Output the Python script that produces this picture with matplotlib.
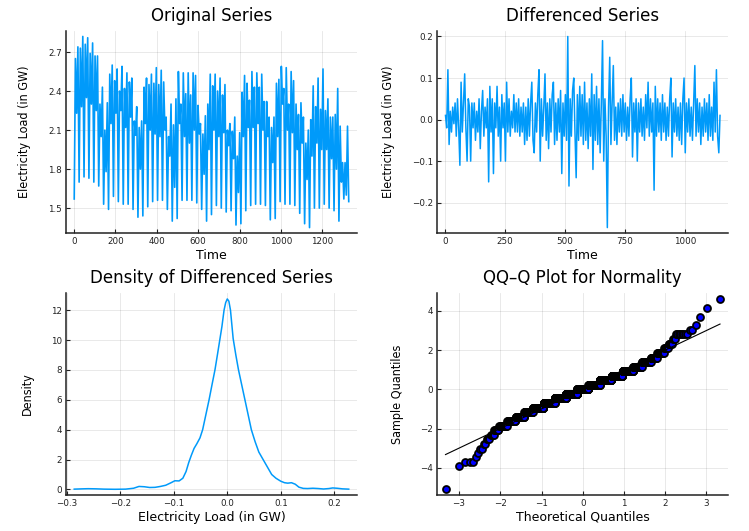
import numpy as np
import matplotlib
matplotlib.use("Agg")
import matplotlib.pyplot as plt
from statistics import NormalDist

LINE_BLUE = "#009AFA"

# original load series: (low, high, dip, high) per weekly cycle
orig_values = [
    1.57, 2.65, 2.23, 2.74,  1.70, 2.73, 2.28, 2.82,  1.74, 2.76, 2.35, 2.81,
    1.73, 2.69, 2.30, 2.77,  1.70, 2.67, 2.25, 2.67,  1.67, 2.30, 2.05, 2.43,
    1.53, 2.10, 1.78, 2.31,  1.49, 2.53, 2.15, 2.60,  1.59, 2.48, 2.23, 2.57,
    1.55, 2.40, 2.25, 2.59,  1.53, 2.42, 2.12, 2.54,  1.53, 2.47, 2.20, 2.50,
    1.49, 2.17, 2.06, 2.28,  1.43, 2.12, 1.80, 2.17,  1.44, 2.43, 2.15, 2.50,
    1.51, 2.45, 2.10, 2.53,  1.55, 2.46, 2.07, 2.58,  1.56, 2.45, 2.05, 2.56,
    1.56, 2.47, 2.10, 2.20,  1.49, 2.05, 1.90, 2.30,  1.40, 2.14, 1.66, 2.34,
    1.42, 2.55, 2.15, 2.30,  1.56, 2.54, 2.05, 2.38,  1.56, 2.54, 2.00, 2.37,
    1.56, 2.54, 2.10, 2.52,  1.54, 2.29, 2.07, 2.15,  1.49, 2.07, 1.76, 2.21,
    1.40, 2.30, 1.95, 2.53,  1.45, 2.44, 2.10, 2.53,  1.52, 2.40, 2.05, 2.50,
    1.50, 2.37, 2.08, 2.45,  1.47, 2.10, 1.98, 2.15,  1.48, 2.09, 1.88, 2.20,
    1.37, 1.90, 1.62, 2.08,  1.38, 2.39, 2.05, 2.52,  1.48, 2.46, 2.12, 2.33,
    1.52, 2.55, 2.12, 2.43,  1.53, 2.54, 2.15, 2.43,  1.53, 2.53, 2.10, 2.32,
    1.52, 2.32, 2.05, 2.20,  1.41, 2.12, 1.85, 2.20,  1.42, 2.46, 2.05, 2.49,
    1.55, 2.59, 2.30, 2.42,  1.53, 2.58, 2.10, 2.30,  1.53, 2.55, 2.08, 2.48,
    1.52, 2.30, 1.95, 2.22,  1.46, 2.31, 2.00, 2.20,  1.38, 2.00, 1.72, 2.10,
    1.35, 2.18, 1.90, 2.44,  1.50, 2.28, 2.00, 2.50,  1.50, 2.26, 1.95, 2.57,
    1.53, 2.25, 1.95, 2.34,  1.50, 2.20, 1.88, 2.20,  1.48, 2.22, 1.80, 2.42,
    1.40, 2.13, 1.70, 1.85,  1.57, 1.85, 1.60, 2.13,  1.55,
]
orig_len = 1327

# differenced series (GW)
diff_values = [
    0.01, -0.02, 0.12, -0.06, 0.02, -0.03, 0.03, -0.01, 0.04, -0.04,
    0.05, -0.02, -0.11, 0.09, -0.03, 0.04, 0.11, -0.02, -0.10, 0.05,
    0.03, -0.10, 0.04, -0.02, 0.04, -0.05, 0.02, -0.03, 0.05, -0.07,
    0.02, 0.07, -0.04, 0.03, -0.02, 0.05, -0.15, 0.08, -0.03, 0.05,
    -0.13, 0.04, -0.02, 0.08, -0.04, 0.03, -0.10, 0.06, -0.02, 0.04,
    -0.10, 0.09, -0.03, 0.05, -0.04, 0.02, -0.02, 0.06, -0.03, 0.04,
    -0.03, 0.05, -0.04, 0.03, -0.03, 0.04, -0.06, 0.03, -0.05, 0.05,
    -0.04, 0.04, 0.09, -0.05, -0.08, 0.04, -0.03, 0.06, 0.12, -0.10,
    0.05, -0.04, 0.03, 0.11, -0.05, 0.04, -0.07, 0.05, -0.03, 0.06,
    0.09, -0.06, 0.04, -0.05, 0.05, -0.03, 0.07, -0.13, 0.04, -0.04,
    0.06, -0.05, 0.20, -0.16, 0.05, -0.04, 0.07, 0.10, -0.03, -0.14,
    0.06, -0.05, 0.08, -0.04, 0.06, -0.06, 0.09, -0.05, 0.04, -0.07,
    0.05, -0.04, 0.11, -0.12, 0.06, -0.05, 0.08, -0.06, 0.05, -0.08,
    0.04, 0.19, -0.10, 0.05, -0.04, -0.26, 0.03, 0.15, -0.06, 0.04,
    0.13, -0.05, 0.03, -0.06, 0.04, -0.03, 0.05, -0.04, 0.06, -0.03,
    0.04, -0.05, 0.03, -0.04, 0.05, 0.10, -0.09, 0.04, -0.03, 0.05,
    -0.10, 0.04, -0.03, 0.05, -0.04, 0.03, -0.05, 0.06, -0.02, 0.09,
    -0.04, 0.05, -0.03, 0.04, -0.17, 0.08, -0.04, 0.05, -0.03, 0.04,
    -0.05, 0.06, -0.03, 0.04, -0.05, 0.03, -0.04, 0.05, 0.10, -0.09,
    0.04, -0.03, 0.05, -0.04, 0.03, -0.05, 0.04, -0.06, 0.05, 0.10,
    -0.08, 0.04, -0.03, 0.05, -0.04, 0.03, -0.05, 0.04, 0.13, -0.04,
    0.05, -0.03, 0.04, -0.06, 0.03, -0.04, 0.05, -0.03, 0.04, -0.05,
    0.06, -0.04, 0.03, -0.05, 0.09, -0.03, 0.12, -0.04, -0.08, 0.01,
]
diff_len = 1147

# kernel density of the differenced series
dens_x = [-0.286, -0.27, -0.26, -0.245, -0.23, -0.21, -0.19, -0.175, -0.165, -0.155,
          -0.145, -0.135, -0.125, -0.115, -0.105, -0.098, -0.09, -0.083, -0.077, -0.072,
          -0.067, -0.062, -0.057, -0.051, -0.046, -0.04, -0.034, -0.028, -0.023, -0.018,
          -0.014, -0.010, -0.006, -0.003, 0.0, 0.003, 0.006, 0.011, 0.016, 0.021,
          0.027, 0.033, 0.039, 0.045, 0.052, 0.059, 0.067, 0.075, 0.083, 0.091,
          0.1, 0.107, 0.113, 0.12, 0.127, 0.134, 0.142, 0.15, 0.16, 0.17,
          0.18, 0.19, 0.197, 0.205, 0.215, 0.227]
dens_y = [0.02, 0.04, 0.05, 0.04, 0.02, 0.01, 0.02, 0.08, 0.2, 0.18,
          0.13, 0.14, 0.2, 0.28, 0.45, 0.58, 0.57, 0.75, 1.2, 1.8,
          2.3, 2.75, 3.05, 3.45, 4.0, 5.0, 6.0, 7.1, 8.0, 9.1,
          10.0, 10.9, 12.0, 12.5, 12.75, 12.6, 12.0, 10.1, 9.0, 8.0,
          7.0, 6.0, 5.0, 4.0, 3.2, 2.5, 2.0, 1.5, 1.0, 0.75,
          0.55, 0.45, 0.42, 0.45, 0.35, 0.15, 0.07, 0.06, 0.08, 0.06,
          0.03, 0.06, 0.1, 0.08, 0.04, 0.02]

# standardized sample quantile levels and how many observations sit at each
qq_levels = [-5.10, -3.92, -3.72, -3.46, -3.25, -3.02, -2.78, -2.55, -2.32, -2.09,
             -1.86, -1.62, -1.39, -1.16, -0.93, -0.70, -0.46, -0.23, 0.0, 0.23,
             0.46, 0.70, 0.93, 1.16, 1.39, 1.62, 1.86, 2.09, 2.32, 2.55,
             2.83, 3.02, 3.30, 3.68, 4.15, 4.61]
qq_counts = [1, 1, 3, 1, 1, 2, 2, 3, 4, 6,
             14, 21, 30, 40, 67, 89, 107, 120, 124, 120,
             112, 87, 65, 40, 30, 16, 13, 6, 5, 3,
             8, 2, 1, 1, 1, 1]

plt.rcParams["font.family"] = ["DejaVu Sans"]
plt.rcParams["axes.xmargin"] = 0.03
plt.rcParams["axes.ymargin"] = 0.03

TITLE_FS = 12
LABEL_FS = 9
TICK_FS = 6.3


def style_axes(ax, title, xlabel, ylabel):
    ax.set_title(title, fontsize=TITLE_FS, pad=7)
    ax.set_xlabel(xlabel, fontsize=LABEL_FS, labelpad=2)
    # the y labels in the original render narrow
    ax.set_ylabel(ylabel, fontsize=LABEL_FS, fontstretch="condensed", labelpad=12)
    for side in ("top", "right"):
        ax.spines[side].set_visible(False)
    for side in ("left", "bottom"):
        ax.spines[side].set_linewidth(1.1)
        ax.spines[side].set_color("#222222")
    ax.grid(True, color="black", alpha=0.1, linewidth=0.6)
    ax.set_axisbelow(True)
    ax.tick_params(direction="in", length=3, width=0.8, labelsize=TICK_FS,
                   colors="#222222", pad=3)


fig = plt.figure(figsize=(7.49, 5.31), dpi=100)
ax1 = fig.add_axes([0.0881, 0.5606, 0.3885, 0.3815])
ax2 = fig.add_axes([0.5838, 0.5606, 0.3885, 0.3815])
ax3 = fig.add_axes([0.0881, 0.0678, 0.3885, 0.3800])
ax4 = fig.add_axes([0.5838, 0.0678, 0.3885, 0.3800])

t_orig = np.linspace(1, orig_len, len(orig_values))
ax1.plot(t_orig, orig_values, color=LINE_BLUE, linewidth=1.2)
ax1.set_xticks([0, 200, 400, 600, 800, 1000, 1200])
ax1.set_yticks([1.5, 1.8, 2.1, 2.4, 2.7])
style_axes(ax1, "Original Series", "Time", "Electricity Load (in GW)")

t_diff = np.linspace(1, diff_len, len(diff_values))
ax2.plot(t_diff, diff_values, color=LINE_BLUE, linewidth=1.1)
ax2.set_xticks([0, 250, 500, 750, 1000])
ax2.set_yticks([-0.2, -0.1, 0.0, 0.1, 0.2])
style_axes(ax2, "Differenced Series", "Time", "Electricity Load (in GW)")

ax3.plot(dens_x, dens_y, color=LINE_BLUE, linewidth=1.1)
ax3.set_xticks([-0.3, -0.2, -0.1, 0.0, 0.1, 0.2])
ax3.set_yticks([0, 2, 4, 6, 8, 10, 12])
style_axes(ax3, "Density of Differenced Series", "Electricity Load (in GW)", "Density")

sample_q = np.repeat(qq_levels, qq_counts)
n_qq = len(sample_q)
nd = NormalDist()
theo_q = np.array([nd.inv_cdf((i - 0.5) / n_qq) for i in range(1, n_qq + 1)])
ax4.plot(theo_q, sample_q, linestyle="none", marker="o", markersize=5,
         markerfacecolor="#0000FF", markeredgecolor="black", markeredgewidth=1.3)
ax4.plot([theo_q[0], theo_q[-1]], [theo_q[0], theo_q[-1]], color="black", linewidth=0.8)
ax4.set_xticks([-3, -2, -1, 0, 1, 2, 3])
ax4.set_yticks([-4, -2, 0, 2, 4])
style_axes(ax4, "QQ\u2013Q Plot for Normality", "Theoretical Quantiles", "Sample Quantiles")

fig.savefig("out.png", dpi=100)
